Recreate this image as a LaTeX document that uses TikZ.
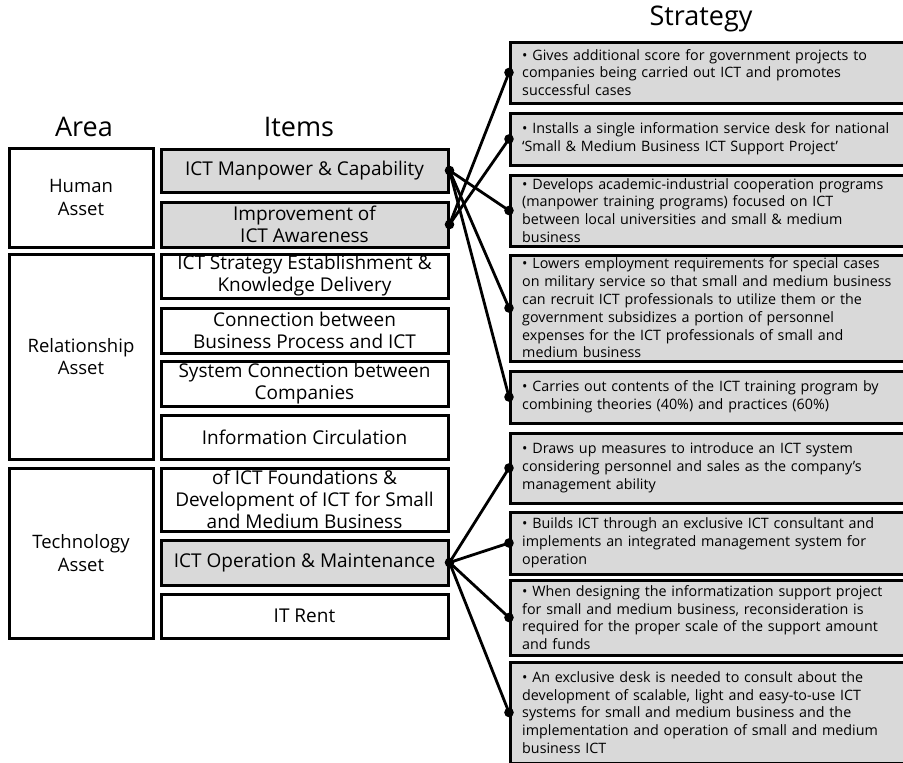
\documentclass[tikz,border=0pt]{standalone}
\usepackage{fontspec}
\setmainfont{Open Sans}
\begin{document}
\begin{tikzpicture}[x=1pt, y=-1pt,
    box/.style={draw, line width=3pt, inner sep=0pt},
    areabox/.style={box, minimum width=144pt},
    itembox/.style={box, minimum width=287pt},
    stratbox/.style={box, fill=gray!30, minimum width=400pt, anchor=west},
    shade/.style={fill=gray!30},
    head/.style={font=\fontsize{27}{30}\selectfont},
    areatext/.style={align=center, inner sep=0pt, font=\fontsize{18.5}{22.5}\selectfont},
    itemtext/.style={align=center, inner sep=0pt, font=\fontsize{19}{22}\selectfont},
    strattext/.style={anchor=west, text width=385pt, align=left, inner sep=0pt,
        font=\fontsize{14.3}{17.8}\selectfont},
    link/.style={line width=2.8pt}]
    \clip (0, 0) rectangle (903, 763);
    \fill[white] (0, 0) rectangle (903, 763);
    % headers
    \node[head] (areahead) at (84, 127) {Area};
    \node[head] (itemhead) at (299, 127) {Items};
    \node[head] (strathead) at (701, 19) {Strategy};
    % area column
    \node[areabox, minimum height=99pt] (human) at (81, 197.5) {};
    \node[areabox, minimum height=205pt] (relation) at (81, 356.5) {};
    \node[areabox, minimum height=170pt] (techno) at (81, 553) {};
    \node[areatext] (human-t) at (human) {Human\\Asset};
    \node[areatext] (relation-t) at (relation) {Relationship\\Asset};
    \node[areatext] (techno-t) at (techno) {Technology\\Asset};
    % items column
    \node[itembox, shade, minimum height=43pt] (manpower) at (304.5, 170.5) {};
    \node[itembox, shade, minimum height=45pt] (aware) at (304.5, 224.5) {};
    \node[itembox, minimum height=44pt] (knowledge) at (304.5, 276) {};
    \node[itembox, minimum height=45pt] (process) at (304.5, 330.5) {};
    \node[itembox, minimum height=45pt] (syscon) at (304.5, 383.5) {};
    \node[itembox, minimum height=44pt] (circul) at (304.5, 437) {};
    \node[itembox, minimum height=63pt] (found) at (304.5, 499.5) {};
    \node[itembox, shade, minimum height=45pt] (operate) at (304.5, 562.5) {};
    \node[itembox, minimum height=44pt] (rent) at (304.5, 616) {};
    \node[itemtext] (manpower-t) at (manpower) {ICT Manpower \& Capability};
    \node[itemtext] (aware-t) at (aware) {Improvement of\\ICT Awareness};
    \node[itemtext] (knowledge-t) at (knowledge) {ICT Strategy Establishment \&\\Knowledge Delivery};
    \node[itemtext] (process-t) at (process) {Connection between\\Business Process and ICT};
    \node[itemtext] (syscon-t) at (syscon) {System Connection between\\Companies};
    \node[itemtext] (circul-t) at (circul) {Information Circulation};
    \node[itemtext] (found-t) at (found) {of ICT Foundations \&\\Development of ICT for Small\\and Medium Business};
    \node[itemtext] (operate-t) at (operate) {ICT Operation \& Maintenance};
    \node[itemtext] (rent-t) at (rent) {IT Rent};
    % strategy column
    \node[stratbox, minimum height=61pt] (s1) at (509, 72.5) {};
    \node[stratbox, minimum height=52pt] (s2) at (509, 139) {};
    \node[stratbox, minimum height=71pt] (s3) at (509, 210.5) {};
    \node[stratbox, minimum height=106pt] (s4) at (509, 308) {};
    \node[stratbox, minimum height=52pt] (s5) at (509, 397) {};
    \node[stratbox, minimum height=70pt] (s6) at (509, 468) {};
    \node[stratbox, minimum height=62pt] (s7) at (509, 543) {};
    \node[stratbox, minimum height=75pt] (s8) at (509, 617.5) {};
    \node[stratbox, minimum height=101pt] (s9) at (509, 712.5) {};
    \node[strattext] (s1-t) at ([xshift=13pt]s1.west) {• Gives additional score for government projects to\\companies being carried out ICT and promotes\\successful cases};
    \node[strattext] (s2-t) at ([xshift=13pt]s2.west) {• Installs a single information service desk for national\\‘Small \& Medium Business ICT Support Project’};
    \node[strattext] (s3-t) at ([xshift=13pt]s3.west) {• Develops academic-industrial cooperation programs\\(manpower training programs) focused on ICT\\between local universities and small \& medium\\business};
    \node[strattext] (s4-t) at ([xshift=13pt]s4.west) {• Lowers employment requirements for special cases\\on military service so that small and medium business\\can recruit ICT professionals to utilize them or the\\government subsidizes a portion of personnel\\expenses for the ICT professionals of small and\\medium business};
    \node[strattext] (s5-t) at ([xshift=13pt]s5.west) {• Carries out contents of the ICT training program by\\combining theories (40\%) and practices (60\%)};
    \node[strattext] (s6-t) at ([xshift=13pt]s6.west) {• Draws up measures to introduce an ICT system\\considering personnel and sales as the company’s\\management ability};
    \node[strattext] (s7-t) at ([xshift=13pt]s7.west) {• Builds ICT through an exclusive ICT consultant and\\implements an integrated management system for\\operation};
    \node[strattext] (s8-t) at ([xshift=13pt]s8.west) {• When designing the informatization support project\\for small and medium business, reconsideration is\\required for the proper scale of the support amount\\and funds};
    \node[strattext] (s9-t) at ([xshift=13pt]s9.west) {• An exclusive desk is needed to consult about the\\development of scalable, light and easy-to-use ICT\\systems for small and medium business and the\\implementation and operation of small and medium\\business ICT};
    % connectors
    \foreach \a/\b in {aware/s1, aware/s2, manpower/s3, manpower/s4, manpower/s5,
        operate/s6, operate/s7, operate/s8, operate/s9}
        \draw[link] (\a.east) -- (\b.west);
    \foreach \n in {manpower, aware, operate}
        \fill (\n.east) circle (4.8);
    \foreach \n in {s1, s2, s3, s4, s5, s6, s7, s8, s9}
        \fill (\n.west) circle (4.8);
\end{tikzpicture}
\end{document}
